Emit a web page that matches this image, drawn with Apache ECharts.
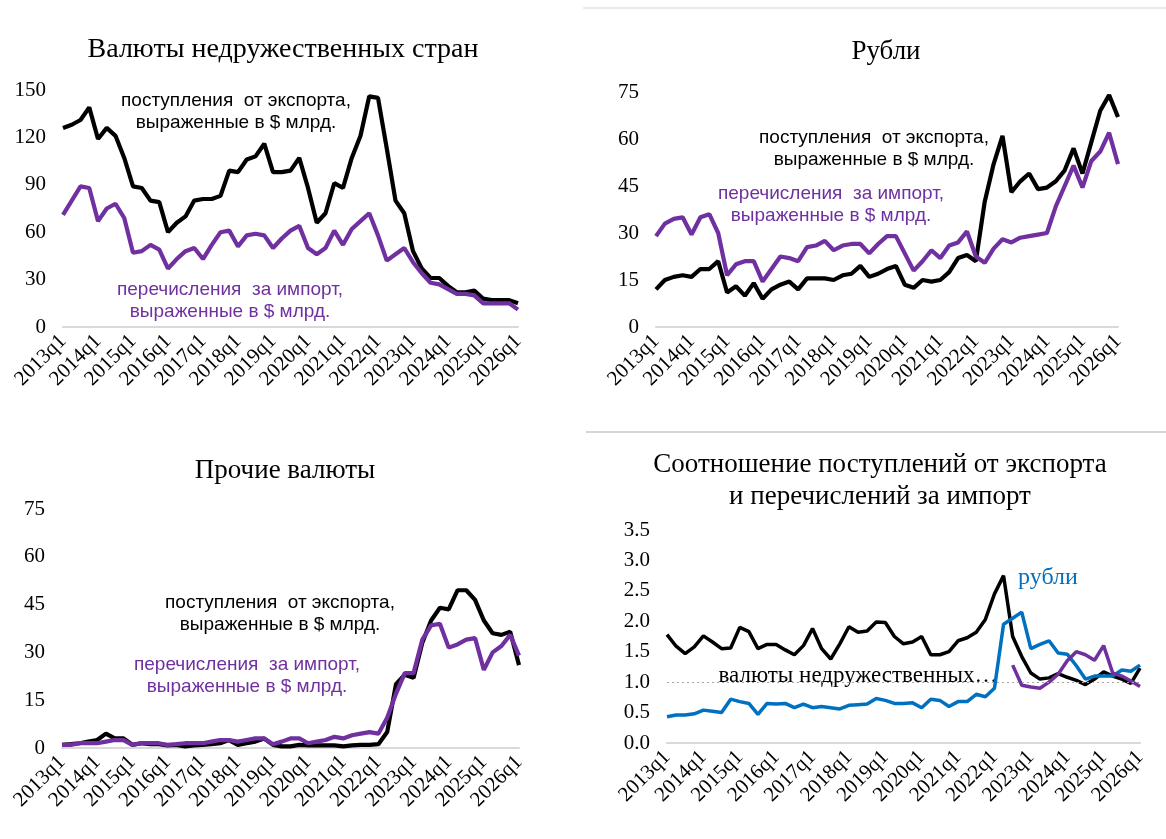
<!DOCTYPE html>
<html>
<head>
<meta charset="utf-8">
<script src="https://cdn.jsdelivr.net/npm/echarts@6/dist/echarts.min.js"></script>
<style>
  html, body { margin: 0; padding: 0; background: #fff; }
  #chart { width: 1166px; height: 839px; }
</style>
</head>
<body>
<div id="chart"></div>
<script>
// quarters 2013q1 .. 2026q1
const years = [2013, 2014, 2015, 2016, 2017, 2018, 2019, 2020, 2021, 2022, 2023, 2024, 2025, 2026];
const quarters = [];
years.forEach(y => {
    for (let q = 1; q <= 4; q++) {
        if (y === 2026 && q > 1) break;
        quarters.push(y + 'q' + q);
    }
});

// Валюты недружественных стран, $ млрд
const exportNF = [126,128,131,139, 119,126,121,107, 89,88,80,79, 60,66,70,80, 81,81,83,99, 98,106,108,116,
    98,98,99,107, 88,66,72,91, 88,107,121,146, 145,113,80,72, 48,37,31,31, 26,22,22,23, 18,17,17,17, 15];
const importNF = [71,80,89,88, 67,75,78,69, 47,48,52,49, 37,43,48,50, 43,52,60,61, 51,58,59,58,
    50,56,61,64, 50,46,50,61, 52,62,67,72, 58,42,46,50, 41,34,28,27, 24,21,21,20, 15,15,15,15, 11];

// Рубли, $ млрд
const exportRub = [12,15,16,16.5, 16,18.5,18.5,21, 11,13,10,14, 9,12,13.5,14.5, 12,15.5,15.5,15.5, 15,16.5,17,19.5,
    16,17,18.5,19.5, 13.5,12.5,15,14.5, 15,17.5,22,23, 21,40,52,61, 43,46.5,49,44, 44.5,46.5,50,57, 49,59,69,74, 67];
const importRub = [29,33,34.5,35, 29.5,35,36,30, 16.5,20,21,21, 14.5,18.5,22.5,22, 21,25.5,26,27.5, 24.5,26,26.5,26.5,
    23.5,26.5,29,29, 23.5,18,21,24.5, 22,26,27,30.5, 22.5,20.5,25,28, 27,28.5,29,29.5, 30,38.5,45,51.5, 44.5,53,56,62, 52];

// Прочие валюты, $ млрд
const exportOther = [1,1.2,1.5,2, 2.5,4.5,3,3, 1,1.5,1.2,1.2, 0.8,1,0.5,0.8, 1,1.2,1.5,2.5, 1,1.5,2,3,
    1,0.5,0.5,1, 0.8,0.8,0.8,0.8, 0.5,0.8,1,1, 1.2,5,20,23, 22,33,40,44, 43.5,49.5,49.5,46.5, 40,36,35.5,36.5, 26];
const importOther = [1,1,1.5,1.5, 1.5,2,2.5,2.5, 1,1.5,1.5,1.5, 1,1.2,1.5,1.5, 1.5,2,2.5,2.5, 2,2.5,3,3,
    1.2,2,3,3, 1.5,2,2.5,3.5, 3,4,4.5,5, 4.5,9.5,17,23.5, 23.5,34,38.5,39, 31.5,32.5,34,34.5, 24.5,30,32,35.5, 29];

// Соотношение поступлений от экспорта и перечислений за импорт
const ratioNF = [1.78,1.59,1.47,1.58, 1.76,1.66,1.55,1.56, 1.9,1.83,1.55,1.62, 1.62,1.53,1.45,1.6, 1.88,1.55,1.38,1.63,
    1.91,1.82,1.84,1.99, 1.98,1.75,1.63,1.66, 1.75,1.45,1.45,1.5, 1.68,1.73,1.82,2.03, 2.45,2.75,1.75,1.42,
    1.15,1.05,1.07,1.14, 1.08,1.03,0.96,1.05, 1.17,1.1,1.05,0.98, 1.23];
const ratioRub = [0.43,0.46,0.46,0.48, 0.54,0.52,0.5,0.72, 0.68,0.65,0.47,0.65, 0.64,0.65,0.58,0.64, 0.58,0.6,0.58,0.56,
    0.62,0.63,0.64,0.73, 0.7,0.65,0.65,0.66, 0.58,0.72,0.7,0.6, 0.68,0.68,0.8,0.76, 0.9,1.95,2.05,2.15,
    1.55,1.62,1.68,1.48, 1.46,1.27,1.05,1.1, 1.1,1.1,1.2,1.18, 1.28];
const ratioOtherTail = [1.28,0.95,0.92,0.9,1.0,1.13,1.35,1.5,1.45,1.36,1.6,1.15,1.1,1.02,0.93]; // from 2022q3
const ratioOther = quarters.map((q, i) => i < quarters.length - ratioOtherTail.length ? '-' :
    ratioOtherTail[i - (quarters.length - ratioOtherTail.length)]);

const BLACK = '#000000';
const PURPLE = '#7030a0';
const BLUE = '#0070c0';
const SERIF = '"Liberation Serif", "Times New Roman", serif';
const SANS = '"Liberation Sans", Arial, sans-serif';

const myChart = echarts.init(document.getElementById('chart'));

function xAxis(gridIndex) {
    return {
        type: 'category',
        gridIndex: gridIndex,
        data: quarters,
        boundaryGap: false,
        axisTick: { show: false },
        axisLine: { lineStyle: { color: '#d9d9d9', width: 2 } },
        axisLabel: {
            interval: 3,
            rotate: 45,
            margin: 11,
            color: '#000',
            fontFamily: SERIF,
            fontSize: 21,
            hideOverlap: false
        }
    };
}

function yAxis(gridIndex, max, interval, digits) {
    return {
        type: 'value',
        gridIndex: gridIndex,
        min: 0,
        max: max,
        interval: interval,
        splitLine: { show: false },
        axisLine: { show: false },
        axisTick: { show: false },
        axisLabel: {
            margin: 17,
            color: '#000',
            fontFamily: SERIF,
            fontSize: 21,
            formatter: v => v.toFixed(digits)
        }
    };
}

function line(name, idx, data, color, width) {
    return {
        name: name,
        type: 'line',
        xAxisIndex: idx,
        yAxisIndex: idx,
        data: data,
        symbol: 'none',
        lineStyle: { color: color, width: width },
        itemStyle: { color: color },
        silent: true,
        animation: false
    };
}

function text(x, y, str, font, color, lh) {
    return {
        type: 'text',
        x: x,
        y: y,
        silent: true,
        style: {
            text: str,
            font: font,
            fill: color,
            textAlign: 'center',
            align: 'center',
            textVerticalAlign: 'middle',
            verticalAlign: 'middle',
            lineHeight: lh || 22
        }
    };
}

const titleFont = '27px ' + SERIF;
const noteFont = '19px ' + SANS;

const option = {
    animation: false,
    grid: [
        { left: 63, top: 90, width: 455, height: 237 },
        { left: 656, top: 92, width: 462, height: 235 },
        { left: 62, top: 509, width: 457, height: 239 },
        { left: 667, top: 530, width: 473, height: 213 }
    ],
    xAxis: [xAxis(0), xAxis(1), xAxis(2), xAxis(3)],
    yAxis: [
        yAxis(0, 150, 30, 0),
        yAxis(1, 75, 15, 0),
        yAxis(2, 75, 15, 0),
        yAxis(3, 3.5, 0.5, 1)
    ],
    series: [
        line('поступления от экспорта', 0, exportNF, BLACK, 4.2),
        line('перечисления за импорт', 0, importNF, PURPLE, 4.2),
        line('поступления от экспорта', 1, exportRub, BLACK, 4.2),
        line('перечисления за импорт', 1, importRub, PURPLE, 4.2),
        line('поступления от экспорта', 2, exportOther, BLACK, 4.2),
        line('перечисления за импорт', 2, importOther, PURPLE, 4.2),
        Object.assign(line('валюты недружественных стран', 3, ratioNF, BLACK, 3.5), {
            markLine: {
                silent: true,
                symbol: 'none',
                label: { show: false },
                lineStyle: { color: '#a6a6a6', type: [2, 3], width: 1 },
                data: [{ yAxis: 1 }]
            }
        }),
        line('рубли', 3, ratioRub, BLUE, 3.5),
        line('прочие валюты', 3, ratioOther, PURPLE, 3.5)
    ],
    graphic: [
        { type: 'line', silent: true, shape: { x1: 583, y1: 8, x2: 1166, y2: 8 }, style: { stroke: '#e3e3e3', lineWidth: 1.5 } },
        { type: 'line', silent: true, shape: { x1: 586, y1: 432, x2: 1166, y2: 432 }, style: { stroke: '#c8c8c8', lineWidth: 1.5 } },
        text(283, 50, 'Валюты недружественных стран', '28px ' + SERIF, '#000'),
        text(886, 52, 'Рубли', titleFont, '#000'),
        text(285, 471, 'Прочие валюты', titleFont, '#000'),
        text(880, 481, 'Соотношение поступлений от экспорта\nи перечислений за импорт', titleFont, '#000', 32),
        text(236, 112, 'поступления  от экспорта,\nвыраженные в $ млрд.', noteFont, BLACK),
        text(230, 301, 'перечисления  за импорт,\nвыраженные в $ млрд.', noteFont, PURPLE),
        text(874, 149, 'поступления  от экспорта,\nвыраженные в $ млрд.', noteFont, BLACK),
        text(831, 205, 'перечисления  за импорт,\nвыраженные в $ млрд.', noteFont, PURPLE),
        text(280, 614, 'поступления  от экспорта,\nвыраженные в $ млрд.', noteFont, BLACK),
        text(247, 676, 'перечисления  за импорт,\nвыраженные в $ млрд.', noteFont, PURPLE),
        text(858, 676, 'валюты недружественных…', '23px ' + SERIF, BLACK),
        text(1048, 578, 'рубли', '24px ' + SERIF, BLUE)
    ]
};

myChart.setOption(option);
</script>
</body>
</html>
